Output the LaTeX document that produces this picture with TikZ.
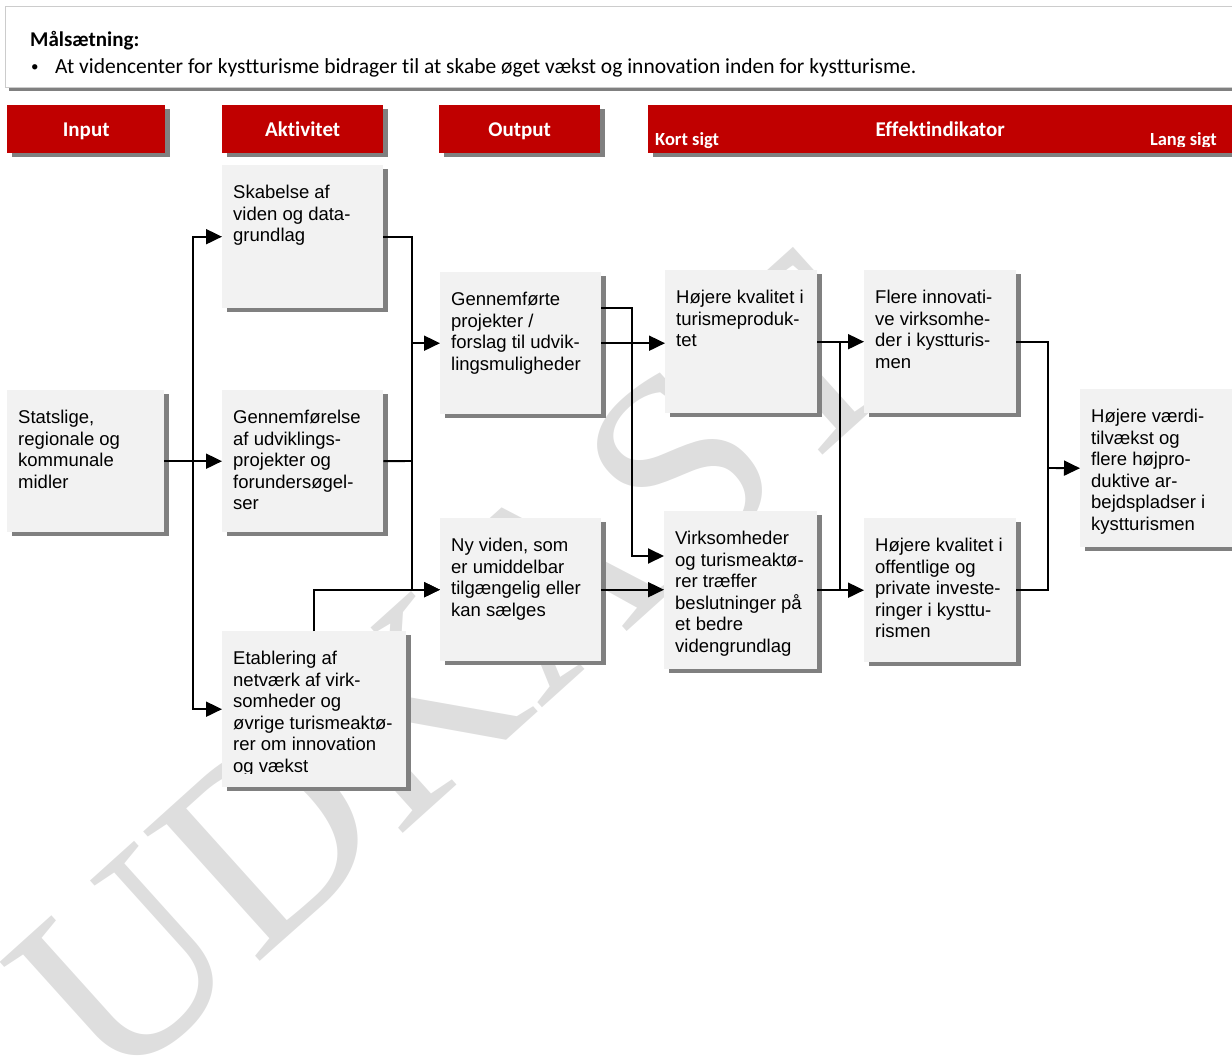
\documentclass[tikz,border=0pt]{standalone}
\usepackage{fontspec}
\setmainfont{Liberation Sans}
\newfontfamily\calibri[Ligatures=NoCommon]{Carlito}
\newfontfamily\wmserif{Liberation Serif}
\usetikzlibrary{arrows.meta,shadows}

\definecolor{hdred}{HTML}{C00000}
\definecolor{shgray}{HTML}{808080}
\definecolor{boxgray}{HTML}{F2F2F2}
\definecolor{wmgray}{HTML}{DEDEDE}
\definecolor{framegray}{HTML}{CCCCCC}

% box text: height, width, lines
\newcommand{\boxtxt}[3]{\parbox[t][#1pt][t]{#2pt}{#3}}

\begin{document}
\begin{tikzpicture}[x=1pt, y=-1pt,
    hdr/.style={fill=hdred, text=white, anchor=north west, inner sep=0pt,
        text height=15pt, text depth=0pt,
        font=\calibri\bfseries\fontsize{21}{24}\selectfont,
        drop shadow={shadow xshift=5pt, shadow yshift=-4pt, fill=shgray, opacity=1}},
    subhdr/.style={text=white, inner sep=0pt, font=\calibri\bfseries\fontsize{18.5}{22}\selectfont},
    boxtext/.style={anchor=north west, inner xsep=11pt, inner ysep=20pt,
        font=\fontsize{18.5}{21.5}\selectfont},
    box/.style={boxtext, fill=boxgray,
        drop shadow={shadow xshift=5pt, shadow yshift=-4pt, fill=shgray, opacity=1}},
    conn/.style={line width=1.9pt},
    arr/.style={conn, -{Triangle[length=16pt, width=15pt]}},
  ]
  \useasboundingbox (0,0) rectangle (1232,1059);

  % watermark
  \node[text=wmgray, rotate=42, font=\wmserif\fontsize{266}{266}\selectfont] (udkast) at (455,670) {UDKAST};

  % goal frame
  \draw[framegray, line width=1pt] (5,7) rectangle (1250,88);
  \fill[shgray] (9,88) rectangle (1250,91);
  \node[anchor=base west, inner sep=0pt, font=\calibri\bfseries\fontsize{21}{24}\selectfont] (maal) at (30,47) {Målsætning:};
  \node[anchor=base west, inner sep=0pt, font=\calibri\fontsize{15}{18}\selectfont] (bullet) at (31,72) {•};
  \node[anchor=base west, inner sep=0pt, font=\calibri\fontsize{21.5}{24}\selectfont] (maaltxt) at (55,74) {At videncenter for kystturisme bidrager til at skabe øget vækst og innovation inden for kystturisme.};

  % headers
  \node[hdr, minimum width=158pt, minimum height=48pt] (hin) at (7,105) {Input};
  \node[hdr, minimum width=161pt, minimum height=48pt] (hakt) at (222,105) {Aktivitet};
  \node[hdr, minimum width=161pt, minimum height=48pt] (hout) at (439,105) {Output};
  \node[hdr, minimum width=584pt, minimum height=48pt] (heff) at (648,105) {Effektindikator};
  \node[subhdr, anchor=base west] (kort) at (655,146) {Kort sigt};
  \begin{scope}
    \clip (1100,105) rectangle (1232,147);
    \node[subhdr, anchor=base east] (lang) at (1217,146) {Lang sigt};
  \end{scope}

  % boxes
  \node[box] (statslige) at (7,390) {\boxtxt{102}{135}{Statslige,\\regionale og\\kommunale\\midler}};
  \node[box] (skab) at (222,165) {\boxtxt{103}{139}{Skabelse af\\viden og data-\\grundlag}};
  \node[box] (gennemf) at (222,390) {\boxtxt{102}{139}{Gennemførelse\\af udviklings-\\projekter og\\forundersøgel-\\ser}};
  \node[box, inner sep=0pt, minimum width=184pt, minimum height=156pt] (etabl) at (222,631) {};
  \begin{scope}
    \clip (222,631) rectangle (406,773);
    \node[boxtext] (etabltxt) at (222,631) {\boxtxt{116}{162}{Etablering af\\netværk af virk-\\somheder og\\øvrige turismeaktø-\\rer om innovation\\og vækst}};
  \end{scope}
  \node[box] (gennemfoerte) at (440,272) {\boxtxt{102}{139}{Gennemførte\\projekter /\\forslag til udvik-\\lingsmuligheder}};
  \node[box] (nyviden) at (440,518) {\boxtxt{103}{139}{Ny viden, som\\er umiddelbar\\tilgængelig eller\\kan sælges}};
  \node[box] (hoejkval) at (665,270) {\boxtxt{103}{130}{Højere kvalitet i\\turismeproduk-\\tet}};
  \node[box] (virks) at (664,511) {\boxtxt{118}{131}{Virksomheder\\og turismeaktø-\\rer træffer\\beslutninger på\\et bedre\\videngrundlag}};
  \node[box] (flere) at (864,270) {\boxtxt{103}{130}{Flere innovati-\\ve virksomhe-\\der i kystturis-\\men}};
  \node[box] (hoejoff) at (864,518) {\boxtxt{104}{130}{Højere kvalitet i\\offentlige og\\private investe-\\ringer i kysttu-\\rismen}};
  \node[box] (vaerdi) at (1080,389) {\boxtxt{118}{140}{Højere værdi-\\tilvækst og\\flere højpro-\\duktive ar-\\bejdspladser i\\kystturismen}};

  % input -> activities
  \coordinate (jin) at (193,461);
  \draw[arr] (statslige.east) -- (gennemf.west);
  \draw[arr] (jin) |- (skab.west);
  \draw[arr] (jin) |- (etabl.west);

  % activities -> output
  \coordinate (jakt) at (412,461);
  \draw[conn] (skab.east) -| (jakt);
  \draw[conn] (gennemf.east) -- (jakt);
  \draw[arr] (jakt) |- (gennemfoerte.west);
  \draw[arr] (jakt) |- (nyviden.west);
  \draw[arr] (etabl.north) |- (nyviden.west);

  % output -> short term
  \coordinate (gtop) at (601,308);
  \coordinate (gbend) at (632,556);
  \draw[arr] (gtop) -| (gbend) -- (gbend -| virks.west);
  \draw[arr] (gennemfoerte.east) -- (gennemfoerte.east -| hoejkval.west);
  \draw[arr] (nyviden.east) -- (nyviden.east -| virks.west);

  % short term -> effects
  \coordinate (jk1) at (840,341.5);
  \coordinate (jk2) at (840,590);
  \draw[arr] (hoejkval.east) -- (hoejkval.east -| flere.west);
  \draw[arr] (virks.east) -- (virks.east -| hoejoff.west);
  \draw[conn] (jk1) -- (jk2);

  % effects -> long term
  \coordinate (jl) at (1048,468);
  \draw[conn] (flere.east) -| (jl);
  \draw[conn] (hoejoff.east) -| (jl);
  \draw[arr] (jl) -- (vaerdi.west);
\end{tikzpicture}
\end{document}
